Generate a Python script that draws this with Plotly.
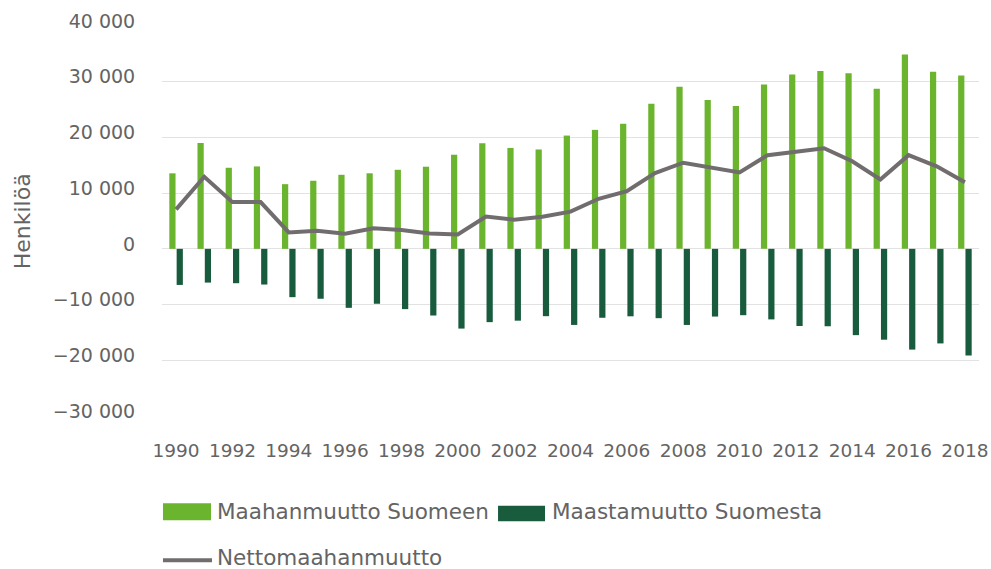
import plotly.graph_objects as go

GREEN = "#6BB42E"
DARK = "#185C3D"
LINE = "#716D6E"
GRID = "#E2E2E2"
TEXT = "#646464"
FONT = "DejaVu Sans"

years = list(range(1990, 2019))
maahanmuutto = [13558, 19001, 14554, 14795, 11611, 12222, 13294, 13564, 14192, 14744,
                16895, 18955, 18113, 17838, 20333, 21355, 22451, 26029, 29114, 26699,
                25636, 29481, 31278, 31941, 31507, 28746, 34905, 31797, 31106]
maastamuutto = [-6477, -6055, -6165, -6405, -8672, -8957, -10587, -9854, -10817, -11966,
                -14311, -13153, -12891, -12083, -13656, -12369, -12107, -12443, -13657, -12151,
                -11905, -12660, -13845, -13893, -15486, -16305, -18082, -16973, -19141]
netto = [7081, 12946, 8389, 8390, 2939, 3265, 2707, 3710, 3375, 2778,
         2584, 5802, 5222, 5755, 6677, 8986, 10344, 13586, 15457, 14548,
         13731, 16821, 17433, 18048, 15721, 12441, 16823, 14824, 11965]
y_ticks = [-30000, -20000, -10000, 0, 10000, 20000, 30000, 40000]

fig = go.Figure()
fig.add_trace(go.Bar(x=years, y=maahanmuutto, name="Maahanmuutto Suomeen",
                     marker=dict(color=GREEN, line=dict(width=0))))
fig.add_trace(go.Bar(x=years, y=maastamuutto, name="Maastamuutto Suomesta",
                     marker=dict(color=DARK, line=dict(width=0))))
fig.add_trace(go.Scatter(x=years, y=netto, name="Nettomaahanmuutto", mode="lines",
                         line=dict(color=LINE, width=4)))

fig.update_layout(
    width=991, height=569,
    paper_bgcolor="white", plot_bgcolor="white",
    margin=dict(l=162, r=12, t=26, b=153),
    barmode="group", bargap=0.48, bargroupgap=0.15,
    showlegend=False,
    separators=", ",
    font=dict(family=FONT, color=TEXT, size=19),
)
fig.update_xaxes(
    range=[1989.5, 2018.5], tickmode="array", tickvals=years[::2],
    showgrid=False, zeroline=False, showline=False,
    ticks="outside", ticklen=18, tickcolor="rgba(0,0,0,0)",
    tickfont=dict(size=18.5, color=TEXT), automargin=False,
)
fig.update_yaxes(
    range=[-30000, 40000], tickvals=y_ticks, tickformat=",d",
    showgrid=True, gridcolor=GRID, gridwidth=1,
    zeroline=True, zerolinecolor=GRID, zerolinewidth=1,
    ticks="outside", ticklen=22, tickcolor="rgba(0,0,0,0)",
    ticklabelshift=-5, automargin=False,
    tickfont=dict(size=19, color=TEXT),
)

# y-akselin otsikko
fig.add_annotation(text="Henkilöä", xref="paper", yref="paper", x=-0.171, y=0.5,
                   xanchor="center", yanchor="middle",
                   textangle=-90, showarrow=False, font=dict(size=22, color=TEXT))

# selite käsin, leveät värilaatat kuten alkuperäisessä
leg = dict(size=21.5, color=TEXT)
fig.add_shape(type="rect", xref="paper", yref="paper", x0=0.0012, x1=0.060,
              y0=-0.2674, y1=-0.2238, fillcolor=GREEN, line=dict(width=0))
fig.add_annotation(text="Maahanmuutto Suomeen", xref="paper", yref="paper",
                   x=0.0649, y=-0.2456, xanchor="left", yanchor="middle",
                   showarrow=False, font=leg)
fig.add_shape(type="rect", xref="paper", yref="paper", x0=0.4113, x1=0.4688,
              y0=-0.2700, y1=-0.2300, fillcolor=DARK, line=dict(width=0))
fig.add_annotation(text="Maastamuutto Suomesta", xref="paper", yref="paper",
                   x=0.4749, y=-0.2456, xanchor="left", yanchor="middle",
                   showarrow=False, font=leg)
fig.add_shape(type="line", xref="paper", yref="paper", x0=0.0012, x1=0.0612,
              y0=-0.370, y1=-0.370, line=dict(color=LINE, width=4))
fig.add_annotation(text="Nettomaahanmuutto", xref="paper", yref="paper",
                   x=0.0649, y=-0.362, xanchor="left", yanchor="middle",
                   showarrow=False, font=leg)

# sivun oletusmarginaali pois, jotta kuva täyttää ikkunan tarkasti
fig.write_html("out.html",
               config={"displayModeBar": False},
               post_script="document.body.style.margin='0';"
                           "document.body.style.overflow='hidden';")
